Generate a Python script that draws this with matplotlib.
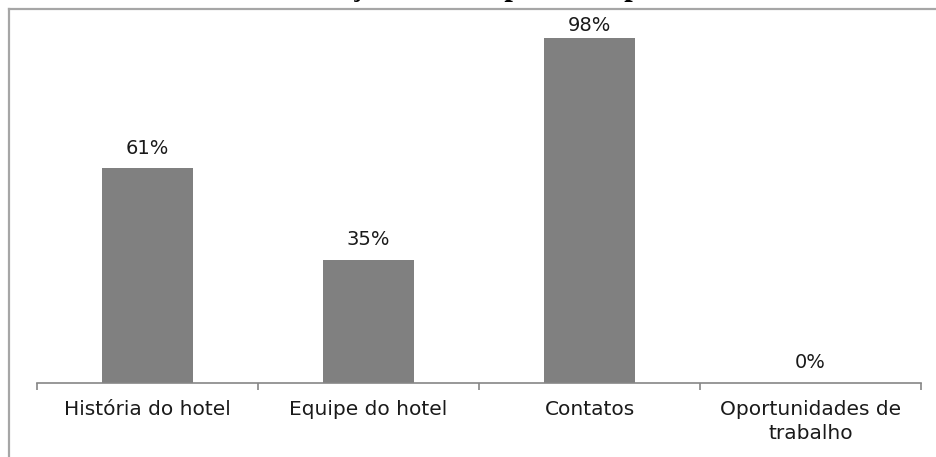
import matplotlib
matplotlib.use("Agg")
import matplotlib.pyplot as plt
from matplotlib.lines import Line2D

categories = ["História do hotel", "Equipe do hotel", "Contatos", "Oportunidades de\ntrabalho"]
values = [61, 35, 98, 0]
value_labels = ["61%", "35%", "98%", "0%"]
title = "Informação mais importante para"

W, H, DPI = 937, 457, 100
fig = plt.figure(figsize=(W / DPI, H / DPI), dpi=DPI)
fig.patch.set_facecolor("white")

# chart frame: top and left edges (the rest lies outside the image)
frame_kw = dict(transform=fig.transFigure, color="#a6a6a6", linewidth=1.6)
fig.add_artist(Line2D([9.5 / W, 1.0], [(H - 8.5) / H] * 2, **frame_kw))
fig.add_artist(Line2D([9.5 / W] * 2, [0.0, (H - 8.5) / H], **frame_kw))

# plot area
left, right = 37 / W, 921 / W
bottom, top = (H - 383) / H, (H - 31) / H
ax = fig.add_axes([left, bottom, right - left, top - bottom])
ax.set_xlim(-0.5, len(categories) - 0.5)
ax.set_ylim(0, 100)

x = list(range(len(categories)))
ax.bar(x, values, width=0.41, color="#808080", zorder=2)

font = "DejaVu Sans"
for xi, v, lab in zip(x, values, value_labels):
    ax.text(xi, min(v + 5.7, 101.7), lab, ha="center", va="center",
            fontsize=14, family=font, color="#1a1a1a", clip_on=False)

for s in ["left", "right", "top"]:
    ax.spines[s].set_visible(False)
ax.spines["bottom"].set_color("#868686")
ax.spines["bottom"].set_linewidth(1.2)
ax.set_yticks([])
ax.set_xticks([i - 0.5 for i in range(len(categories) + 1)])
ax.set_xticklabels([])
ax.tick_params(axis="x", which="major", length=5, width=1.2, color="#868686")
ax.set_xticks(x, minor=True)
ax.set_xticklabels(categories, minor=True, fontsize=14.5, family=font,
                   color="#1a1a1a", linespacing=1.35)
ax.tick_params(axis="x", which="minor", length=0, pad=12)

# title, almost entirely above the top edge
fig.text(241 / W, (H + 5.5) / H, title, ha="left", va="baseline",
         fontsize=22, fontweight="bold", family="Liberation Serif", color="black")

fig.savefig("out.png", dpi=DPI)
